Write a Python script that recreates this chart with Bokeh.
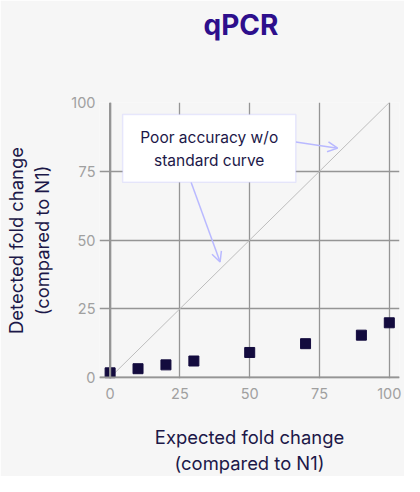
from bokeh.plotting import figure
from bokeh.models import (Range1d, FixedTicker, Span, Label, Arrow, OpenHead, BoxAnnotation,
                          ColumnDataSource, LinearAxis)
from bokeh.embed import file_html
from bokeh.resources import INLINE

# ---- data ----
expected = [0, 10, 20, 30, 50, 70, 90, 100]
detected = [1.7, 3.2, 4.6, 6.0, 9.1, 12.3, 15.4, 19.9]
ticks = [0, 25, 50, 75, 100]
ideal_x = [0, 100]
ideal_y = [0, 100]
title_text = "qPCR"
note_text = "Poor accuracy w/o\nstandard curve"
x_label = "Expected fold change\n(compared to N1)"
y_label = "Detected fold change\n(compared to N1)"

# annotation geometry (data units)
note_box = dict(left=4.5, right=66.5, top=95.6, bottom=71.0)
note_center = (35.5, 83.1)
arrow1 = dict(x_start=66.5, y_start=85.6, x_end=81.5, y_end=83.4)
arrow2 = dict(x_start=29.0, y_start=71.0, x_end=39.4, y_end=42.0)

BG = "#f6f6f6"
GRID = "#959595"
TICK = "#a0a0a0"
NAVY = "#1c1848"
LAV = "#b9b9ff"
FONT = "Inter"

p = figure(width=404, height=476, output_backend="svg", toolbar_location=None,
           x_range=Range1d(-3.8, 103.65), y_range=Range1d(-0.36, 100),
           min_border_left=99, min_border_right=5, min_border_top=100, min_border_bottom=96)
p.background_fill_color = BG
p.border_fill_color = BG
p.outline_line_color = None

xax = p.below[0]
yax = p.left[0]

for ax in (xax, yax):
    ax.ticker = FixedTicker(ticks=ticks)
    ax.axis_line_color = None
    ax.major_tick_line_color = None
    ax.minor_tick_line_color = None
    ax.major_tick_out = 0
    ax.major_tick_in = 0
    ax.major_label_text_color = TICK
    ax.major_label_text_font = FONT
    ax.major_label_text_font_size = "14.5px"
    ax.axis_label_text_color = NAVY
    ax.axis_label_text_font = FONT
    ax.axis_label_text_font_size = "18.4px"
    ax.axis_label_text_font_style = "normal"

xax.axis_label = x_label
yax.axis_label = y_label
xax.major_label_standoff = 9
yax.major_label_standoff = 4
xax.axis_label_standoff = 24
yax.axis_label_standoff = 15

# invisible spacer between frame and title (pushes the title up)
spacer = LinearAxis(ticker=FixedTicker(ticks=[]), axis_line_color=None,
                    major_tick_line_color=None, minor_tick_line_color=None,
                    major_tick_out=0, minor_tick_out=0, major_tick_in=0, minor_tick_in=0,
                    major_label_standoff=0, major_label_text_font_size="1px",
                    axis_label=" ", axis_label_standoff=42,
                    axis_label_text_font_size="10px", axis_label_text_color=None)
p.add_layout(spacer, "above")

p.title.text = title_text
p.title.align = "left"
p.title.offset = 104
p.title.text_font = FONT
p.title.text_font_size = "28px"
p.title.text_font_style = "bold"
p.title.text_color = "#2d0f8c"

p.xgrid.ticker = FixedTicker(ticks=ticks)
p.ygrid.ticker = FixedTicker(ticks=ticks)
p.grid.grid_line_color = GRID
p.grid.grid_line_width = 1.3

p.add_layout(Span(location=0, dimension="height", line_color=GRID, line_width=2.2))
p.add_layout(Span(location=0, dimension="width", line_color=GRID, line_width=2.2))

p.line(ideal_x, ideal_y, line_color="#bdbdbd", line_width=1)

src = ColumnDataSource(dict(x=expected, y=detected))
p.scatter("x", "y", source=src, marker="square", size=10, fill_color="#130b3e", line_color="#130b3e")

# annotation
p.add_layout(Arrow(end=OpenHead(size=10, line_color=LAV, line_width=1.5),
                   line_color=LAV, line_width=1.5, **arrow1))
p.add_layout(Arrow(end=OpenHead(size=10, line_color=LAV, line_width=1.5),
                   line_color=LAV, line_width=1.5, **arrow2))
p.add_layout(BoxAnnotation(fill_color="white", fill_alpha=1, line_color=LAV, line_width=1.5,
                           **note_box))
p.add_layout(Label(x=note_center[0], y=note_center[1], text=note_text, text_align="center",
                   text_baseline="middle", text_font=FONT, text_font_size="15.5px",
                   text_color=NAVY, text_line_height=1.25))

open("out.html", "w").write(file_html(p, INLINE))
